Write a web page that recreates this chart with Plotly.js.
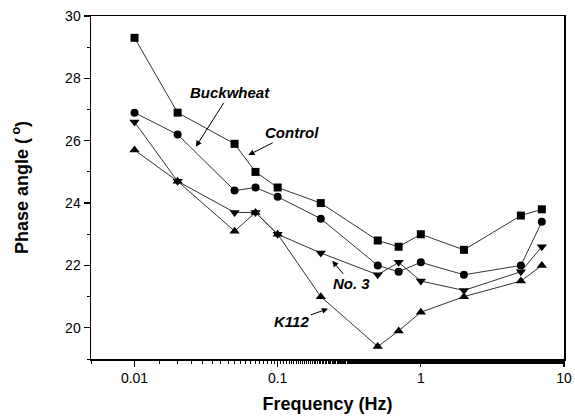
<!DOCTYPE html>
<html>
<head>
<meta charset="utf-8">
<script src="https://cdn.plot.ly/plotly-3.0.1.min.js"></script>
<style>html,body{margin:0;padding:0;background:#fff;}#chart{width:575px;height:417px;}</style>
</head>
<body>
<div id="chart"></div>
<script>
const frequency = [0.01, 0.02, 0.05, 0.07, 0.1, 0.2, 0.5, 0.7, 1, 2, 5, 7];
const control   = [29.3, 26.9, 25.9, 25.0, 24.5, 24.0, 22.8, 22.6, 23.0, 22.5, 23.6, 23.8];
const buckwheat = [26.9, 26.2, 24.4, 24.5, 24.2, 23.5, 22.0, 21.8, 22.1, 21.7, 22.0, 23.4];
const no3       = [26.6, 24.7, 23.7, 23.7, 23.0, 22.4, 21.7, 22.1, 21.5, 21.2, 21.8, 22.6];
const k112      = [25.7, 24.7, 23.1, 23.7, 23.0, 21.0, 19.4, 19.9, 20.5, 21.0, 21.5, 22.0];
const xTickVals = [0.01, 0.1, 1, 10];
const xTickText = ['0.01', '0.1', '1', '10'];
const yTickVals = [20, 22, 24, 26, 28, 30];

const FONT = '"Liberation Sans", Arial, sans-serif';
function series(name, y, symbol, size) {
  return {
    x: frequency, y: y, name: name, type: 'scatter', mode: 'lines+markers',
    line: {color: '#333', width: 1},
    marker: {symbol: symbol, size: size, color: '#000'},
    showlegend: false
  };
}
const data = [
  series('Control', control, 'square', 8),
  series('Buckwheat', buckwheat, 'circle', 8),
  series('No. 3', no3, 'triangle-down', 9),
  series('K112', k112, 'triangle-up', 9)
];

const labFont = {family: FONT, size: 15, color: '#000', weight: 'bold', style: 'italic'};
// label with an arrow: (x, y) is the arrow head in paper units, (ax, ay) the pixel offset of the label centre
function label(text, x, y, ax, ay) {
  return {xref: 'paper', yref: 'paper', x: x, y: y, ax: ax, ay: ay, text: text,
          font: labFont, showarrow: true, arrowhead: 2, arrowsize: 1.2,
          arrowwidth: 1, arrowcolor: '#000', standoff: 0, startstandoff: 0};
}

const layout = {
  width: 575, height: 417,
  margin: {l: 91, r: 11, t: 16, b: 58},
  paper_bgcolor: '#fff', plot_bgcolor: '#fff',
  font: {family: FONT, color: '#000'},
  xaxis: {
    type: 'log', range: [-2.304, 1],
    tickvals: xTickVals, ticktext: xTickText,
    ticks: 'outside', ticklen: 6, tickwidth: 1.2, tickcolor: '#000',
    minor: {ticks: 'outside', ticklen: 3, tickwidth: 1, tickcolor: '#000', showgrid: false},
    showline: true, linecolor: '#000', linewidth: 1.5, mirror: true,
    showgrid: false, zeroline: false,
    tickfont: {family: FONT, size: 14, color: '#000'},
    title: {text: 'Frequency (Hz)', font: {family: FONT, size: 18, weight: 'bold', color: '#000'}, standoff: 12}
  },
  yaxis: {
    range: [19, 30],
    tickvals: yTickVals,
    ticks: 'outside', ticklen: 6, tickwidth: 1.2, tickcolor: '#000',
    minor: {dtick: 1, ticks: 'outside', ticklen: 3, tickwidth: 1, tickcolor: '#000', showgrid: false},
    showline: true, linecolor: '#000', linewidth: 1.5, mirror: true,
    showgrid: false, zeroline: false,
    tickfont: {family: FONT, size: 14, color: '#000'},
    title: {text: 'Phase angle (<sup> o</sup>)', font: {family: FONT, size: 18, weight: 'bold', color: '#000'}, standoff: 32}
  },
  annotations: [
    label('Buckwheat', 0.2217, 0.6188, 34.3, -54),
    label('Control', 0.3328, 0.5946, 44, -22.3),
    label('No. 3', 0.5101, 0.2861, 19.4, 23),
    label('K112', 0.5011, 0.1464, -36.3, 12.7)
  ]
};
Plotly.newPlot('chart', data, layout, {displayModeBar: false, staticPlot: true});
</script>
</body>
</html>
